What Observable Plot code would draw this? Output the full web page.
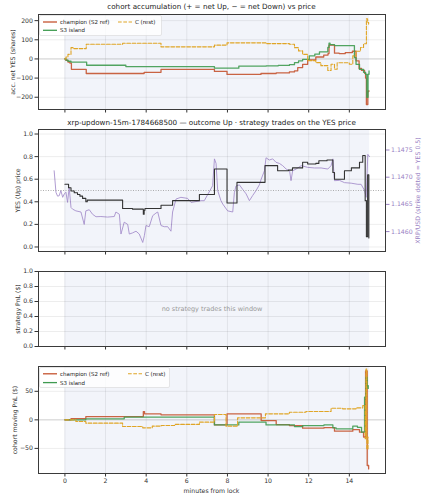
<!DOCTYPE html>
<html><head><meta charset="utf-8">
<script src="https://cdn.jsdelivr.net/npm/d3@7"></script>
<script src="https://cdn.jsdelivr.net/npm/@observablehq/plot@0.6"></script>
<style>
body{margin:0;background:#fff;font-family:"DejaVu Sans",sans-serif;}
#chart{position:relative;width:427px;height:500px;overflow:hidden;background:#fff;}
#chart svg{position:absolute;left:0;}
</style></head><body><div id="chart"></div>
<script>
// ---------------- data ----------------
const xTicks = [0, 2, 4, 6, 8, 10, 12, 14];
const windowBounds = [{start: 0, end: 15}];
const strikeYes = 0.5;
const X_DOMAIN = [-1.3, 15.78];

// panel 1: cohort accumulation (net YES shares)
const accChampT = [0, 0.05, 0.15, 0.25, 0.32, 1.05, 3.9, 4.73, 7.36, 7.98, 9.65, 10.4, 11.05, 11.3, 11.46, 11.7, 11.95, 12.35, 12.74, 12.95, 13.0, 13.27, 13.5, 13.8, 14.15, 14.33, 14.48, 14.6, 14.75, 14.8, 14.84, 14.91, 14.96];
const accChampV = [0, -8, -16, -22, -54, -76, -70, -55, -65, -81, -76, -73, -68, -62, -45, -28, -5, 10, 20, 28, 72, 30, 28, 33, 40, -10, -50, -60, -75, -100, -238, -170, -165];
const accS3T = [0, 0.05, 0.15, 0.3, 1.07, 3.0, 7.36, 8.56, 9.9, 10.5, 11.05, 11.3, 11.5, 11.7, 12.03, 12.3, 12.53, 12.94, 13.0, 13.05, 13.27, 14.17, 14.25, 14.33, 14.5, 14.7, 14.8, 14.86, 14.92, 14.97];
const accS3V = [0, -6, -12, -17, -33, -40, -48, -38, -36, -34, -30, -19, -10, -2, 16, 25, 37, 60, 82, 75, 70, 70, 7, -28, -55, -70, -81, -200, -80, -63];
const accRestT = [0, 0.05, 0.15, 0.3, 0.4, 1.05, 2.84, 4.73, 7.36, 7.98, 9.9, 11.05, 11.3, 11.5, 11.7, 11.95, 12.35, 12.6, 12.94, 13.1, 13.27, 13.4, 13.9, 14.0, 14.17, 14.33, 14.55, 14.7, 14.84, 14.9, 14.95];
const accRestV = [0, 10, 24, 59, 54, 77, 82, 63, 72, 84, 80, 77, 59, 42, 24, -9, -19, -35, -60, -28, -54, -20, -20, -28, 16, 40, 60, 79, 209, 190, 182];

// panel 2: YES trade price (step) and XRP/USD spot
const yesT = [0, 0.18, 0.3, 0.46, 0.62, 0.74, 0.87, 1.03, 1.1, 2.84, 3.33, 3.86, 3.9, 3.94, 4.73, 5.3, 6.62, 7.36, 7.98, 8.47, 9.85, 10.47, 11.0, 11.2, 11.7, 11.95, 12.35, 12.5, 12.9, 13.19, 13.27, 13.76, 14.1, 14.5, 14.66, 14.78, 14.84, 14.9, 14.96];
const yesV = [0.555, 0.525, 0.495, 0.48, 0.465, 0.45, 0.43, 0.40, 0.415, 0.34, 0.335, 0.29, 0.325, 0.34, 0.37, 0.41, 0.465, 0.69, 0.39, 0.572, 0.72, 0.675, 0.68, 0.70, 0.75, 0.735, 0.74, 0.764, 0.77, 0.66, 0.60, 0.675, 0.70, 0.75, 0.81, 0.41, 0.09, 0.64, 0.08];
const xrpT = [-0.53, -0.44, -0.36, -0.28, -0.2, -0.11, -0.03, 0.05, 0.13, 0.21, 0.3, 0.38, 0.54, 0.79, 0.95, 1.03, 1.2, 1.36, 1.53, 1.77, 2.1, 2.43, 2.51, 2.68, 2.76, 2.92, 3.09, 3.17, 3.33, 3.5, 3.66, 3.83, 3.91, 3.99, 4.15, 4.32, 4.48, 4.57, 4.73, 4.89, 5.06, 5.22, 5.3, 5.47, 5.71, 6.04, 6.21, 6.7, 6.86, 7.27, 7.36, 7.44, 7.52, 7.68, 7.77, 8.01, 8.26, 8.34, 8.42, 8.59, 8.75, 8.92, 9.08, 9.24, 9.41, 9.57, 9.66, 9.82, 9.9, 10.06, 10.23, 10.39, 10.56, 10.72, 10.89, 11.06, 11.13, 11.21, 11.38, 11.63, 11.95, 12.28, 12.61, 12.94, 13.1, 13.19, 13.27, 13.51, 13.76, 14.09, 14.42, 14.58, 14.75, 14.83, 14.91, 14.99];
const xrpV = [1.147118, 1.146720, 1.146651, 1.146660, 1.146755, 1.146630, 1.146693, 1.146724, 1.146537, 1.146811, 1.146443, 1.146412, 1.146381, 1.146360, 1.146132, 1.146381, 1.146402, 1.146319, 1.146273, 1.146277, 1.146267, 1.146277, 1.146360, 1.146319, 1.145955, 1.146173, 1.146132, 1.145955, 1.145976, 1.146007, 1.145955, 1.145800, 1.145924, 1.146111, 1.146090, 1.146292, 1.146340, 1.146360, 1.146111, 1.146090, 1.146090, 1.146007, 1.146360, 1.146599, 1.146630, 1.146610, 1.146537, 1.146568, 1.146568, 1.146842, 1.147337, 1.147253, 1.146755, 1.146568, 1.146506, 1.146381, 1.146360, 1.146713, 1.146838, 1.146859, 1.146776, 1.146693, 1.146568, 1.146662, 1.146755, 1.146859, 1.146963, 1.147118, 1.147357, 1.147316, 1.147337, 1.147274, 1.147253, 1.147212, 1.147150, 1.147118, 1.146936, 1.147118, 1.147150, 1.147212, 1.147181, 1.147170, 1.147170, 1.147150, 1.147212, 1.147337, 1.146936, 1.146942, 1.146900, 1.146890, 1.146869, 1.146869, 1.146755, 1.146630, 1.147420, 1.147378];
const XRP_DOMAIN = [1.145634, 1.147877];
const xrpTicks = [1.1460, 1.1465, 1.1470, 1.1475];

// panel 4: cohort moving PnL ($)
const pnlChampT = [0, 0.3, 1.03, 3.86, 3.92, 4.73, 7.36, 7.98, 9.66, 10.4, 11.05, 11.7, 12.75, 13.27, 14.17, 14.5, 14.7, 14.8, 14.88, 14.95];
const pnlChampV = [0, 2.3, 5.8, 14.6, 10.5, 8.8, -8.8, 10.5, -1.2, -8.2, -10, -14.6, -13.5, -19.9, -17, -21.6, -30, 86, -80, -86];
const pnlS3T = [0, 1.03, 2.92, 7.36, 8.56, 9.9, 11.3, 11.7, 12.75, 13.19, 13.35, 14.17, 14.4, 14.6, 14.75, 14.82, 14.88, 14.93];
const pnlS3V = [0, 1.8, 4.7, -8.8, -4.1, -8.8, -11.7, -10, -8.8, -14, -15.8, -11, -13, -21.6, 39.7, 75, 55, 60];
const pnlRestT = [0, 0.54, 1.03, 2.84, 3.83, 4.3, 4.73, 5.4, 6.62, 7.36, 7.93, 8.5, 9.87, 11.05, 11.86, 13.1, 13.67, 14.33, 14.66, 14.78, 14.82, 14.86, 14.92];
const pnlRestV = [0, -2.9, -5.8, -11.7, -14, -11, -10, -8, -4, 9.4, -11, 3.5, 10.5, 13.4, 14.6, 20.4, 19.3, 21, 25, -33, 89, -51, -30];

// labels
const title1 = "cohort accumulation (+ = net Up, \u2212 = net Down) vs price";
const title2 = "xrp-updown-15m-1784668500 \u2014 outcome Up \u00b7 strategy trades on the YES price";
const xLabel = "minutes from lock";
const seriesNames = ["champion (S2 ref)", "S3 island", "C (rest)"];
const emptyNote = "no strategy trades this window";

// ---------------- helpers ----------------
const COL = {champ: "#c4532f", s3: "#3f9b50", rest: "#e0a526", yes: "#333333", xrp: "#a690cc", xrpText: "#9a82c4", shade: "#f2f4fa", ink: "#333333"};
const DASH = "3.7,1.6";
const FONT = '"DejaVu Sans", sans-serif';
const pts = (ts, vs) => ts.map((t, i) => ({t, v: vs[i]}));
const minus = d => (d < 0 ? "\u2212" + Math.abs(d) : String(d));
const f1 = d3.format(".1f");
const chart = document.getElementById("chart");

function common(h, mb) {
  return {
    width: 427, height: h, marginLeft: 38, marginRight: 42, marginTop: 1, marginBottom: mb,
    style: {fontFamily: FONT, fontSize: "6.2px", color: COL.ink, background: "transparent", overflow: "visible"},
    x: {domain: X_DOMAIN, axis: null}
  };
}
function place(svg, top) { svg.style.top = top + "px"; chart.appendChild(svg); }
const shade = () => Plot.rect(windowBounds, {x1: "start", x2: "end", fill: COL.shade});
const grids = yt => [Plot.gridX(xTicks, {stroke: "#000", strokeOpacity: 0.07}), Plot.gridY(yt, {stroke: "#000", strokeOpacity: 0.07})];
const xAxis = bottom => Plot.axisX(xTicks, {tickSize: 3.5, tickPadding: 2, stroke: COL.ink, fill: COL.ink, tickFormat: bottom ? (d => d) : (() => ""), label: null});
const yAxis = (ticks, fmt, label, off) => Plot.axisY(ticks, {tickSize: 3.5, tickPadding: 2, stroke: COL.ink, fill: COL.ink, tickFormat: fmt, label, labelAnchor: "center", labelArrow: "none", labelOffset: off});
const frame = () => Plot.frame({stroke: "#3a3a3a", strokeWidth: 1});
const cohortLines = (c, s, r) => [
  Plot.line(pts(...c), {x: "t", y: "v", curve: "step-after", stroke: COL.champ, strokeWidth: 1.3, strokeOpacity: 0.9}),
  Plot.line(pts(...s), {x: "t", y: "v", curve: "step-after", stroke: COL.s3, strokeWidth: 1.3, strokeOpacity: 0.9}),
  Plot.line(pts(...r), {x: "t", y: "v", curve: "step-after", stroke: COL.rest, strokeWidth: 1.1, strokeDasharray: DASH})
];

// ---------------- panel 1 ----------------
const t1 = [-200, -100, 0, 100, 200];
place(Plot.plot({
  ...common(102, 6),
  y: {domain: [-264, 232]},
  marks: [
    shade(), ...grids(t1),
    Plot.ruleY([0], {stroke: "#bbb", strokeWidth: 0.8, strokeOpacity: 0.7}),
    ...cohortLines([accChampT, accChampV], [accS3T, accS3V], [accRestT, accRestV]),
    xAxis(false), yAxis(t1, minus, "acc. net YES (shares)", 28), frame()
  ]
}), 13);

// ---------------- panel 2 (XRP layer below, YES layer on top) ----------------
const t2 = [0, 0.2, 0.4, 0.6, 0.8, 1.0];
place(Plot.plot({
  ...common(129, 6),
  y: {domain: XRP_DOMAIN},
  marks: [
    shade(),
    Plot.line(pts(xrpT, xrpV), {x: "t", y: "v", stroke: COL.xrp, strokeWidth: 1.0, strokeOpacity: 0.9}),
    Plot.axisY(xrpTicks, {anchor: "right", tickSize: 3.5, tickPadding: 2, tickFormat: d3.format(".4f"), stroke: COL.xrpText, fill: COL.xrpText,
      label: "XRP/USD (strike dotted = YES 0.5)", labelAnchor: "center", labelArrow: "none", labelOffset: 34})
  ]
}), 128);
place(Plot.plot({
  ...common(129, 6),
  y: {domain: [-0.04, 1.04]},
  marks: [
    ...grids(t2),
    Plot.ruleY([strikeYes], {stroke: "#999", strokeWidth: 0.8, strokeDasharray: "1,1.5"}),
    Plot.line(pts(yesT, yesV), {x: "t", y: "v", curve: "step-after", stroke: COL.yes, strokeWidth: 1.1}),
    xAxis(false), yAxis(t2, f1, "YES (Up) price", 23), frame()
  ]
}), 128);

// ---------------- panel 3 ----------------
place(Plot.plot({
  ...common(82, 6),
  y: {domain: [0, 1]},
  marks: [
    shade(), ...grids(t2),
    Plot.text([emptyNote], {frameAnchor: "middle", fill: "#999", fontSize: 6.5}),
    xAxis(false), yAxis(t2, f1, "strategy PnL ($)", 23), frame()
  ]
}), 270);

// ---------------- panel 4 ----------------
const t4 = [-50, 0, 50];
place(Plot.plot({
  ...common(135, 27),
  y: {domain: [-94, 93.5]},
  marks: [
    shade(), ...grids(t4),
    Plot.ruleY([0], {stroke: "#bbb", strokeWidth: 0.8, strokeOpacity: 0.7}),
    ...cohortLines([pnlChampT, pnlChampV], [pnlS3T, pnlS3V], [pnlRestT, pnlRestV]),
    xAxis(true), yAxis(t4, minus, "cohort moving PnL ($)", 26), frame()
  ]
}), 365);

// ---------------- titles, x label & legends overlay ----------------
const over = d3.create("svg").attr("width", 427).attr("height", 500)
  .style("top", "0px").style("font-family", FONT).style("pointer-events", "none");
over.append("text").attr("x", 211.5).attr("y", 6.5).attr("text-anchor", "middle").attr("dominant-baseline", "central")
  .attr("font-size", 7.2).attr("fill", "#222").text(title1);
over.append("text").attr("x", 211.5).attr("y", 122.3).attr("text-anchor", "middle").attr("dominant-baseline", "central")
  .attr("font-size", 7.2).attr("fill", "#222").text(title2);
over.append("text").attr("x", 211.5).attr("y", 490.5).attr("text-anchor", "middle").attr("dominant-baseline", "central")
  .attr("font-size", 6.2).attr("fill", "#333").text(xLabel);

function legend(box, rows) {
  const g = over.append("g");
  g.append("rect").attr("x", box[0]).attr("y", box[1]).attr("width", box[2]).attr("height", box[3])
    .attr("rx", 1.5).attr("fill", "#fff").attr("fill-opacity", 0.8).attr("stroke", "#d6d6d6").attr("stroke-width", 0.6);
  rows.forEach(r => {
    g.append("line").attr("x1", r.x).attr("x2", r.x + 14).attr("y1", r.y).attr("y2", r.y)
      .attr("stroke", r.c).attr("stroke-width", r.dash ? 1.1 : 1.3).attr("stroke-dasharray", r.dash ? DASH : null);
    g.append("text").attr("x", r.x + 17).attr("y", r.y).attr("dominant-baseline", "central")
      .attr("font-size", 5.5).attr("fill", "#222").text(r.name);
  });
}
legend([39.5, 15.5, 122, 20], [
  {x: 43, y: 22, c: COL.champ, name: seriesNames[0]},
  {x: 43, y: 30.3, c: COL.s3, name: seriesNames[1]},
  {x: 118, y: 22, c: COL.rest, dash: true, name: seriesNames[2]}
]);
legend([39.5, 367.5, 130, 20], [
  {x: 43, y: 373.8, c: COL.champ, name: seriesNames[0]},
  {x: 43, y: 382.6, c: COL.s3, name: seriesNames[1]},
  {x: 128, y: 373.8, c: COL.rest, dash: true, name: seriesNames[2]}
]);
chart.appendChild(over.node());
</script></body></html>
